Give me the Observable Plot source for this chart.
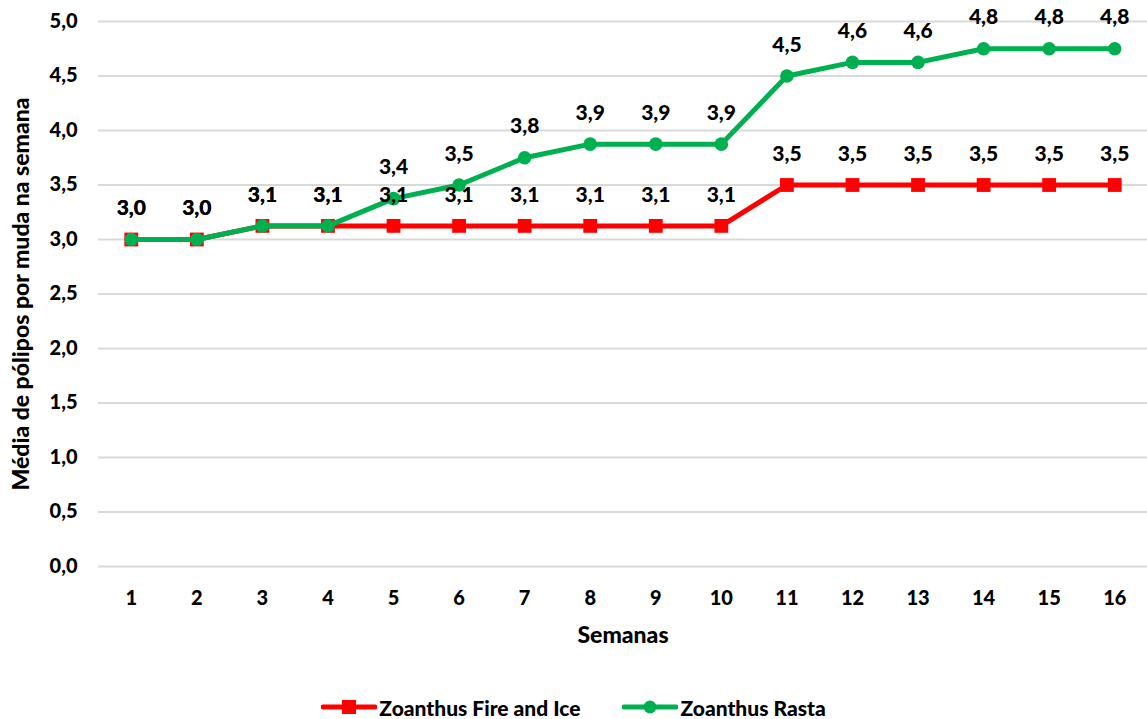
<!DOCTYPE html>
<html>
<head>
<meta charset="utf-8">
<script src="https://cdn.jsdelivr.net/npm/d3@7"></script>
<script src="https://cdn.jsdelivr.net/npm/@observablehq/plot@0.6"></script>
<style>
  body { margin: 0; background: #fff; font-family: Lato, "Open Sans", sans-serif; }
  #chart svg { display: block; }
  .legend { display: flex; justify-content: center; gap: 42px; height: 29px; padding-top: 5px; box-sizing: border-box;
            font-family: Lato, sans-serif; font-weight: 900; font-size: 21px; color: #000; align-items: center; }
  .legend .item { display: flex; align-items: center; gap: 2px; }
</style>
</head>
<body>
<div id="chart"></div>
<div class="legend" id="legend"></div>
<script>
// Weekly average polyps per cutting
const weeks = [1, 2, 3, 4, 5, 6, 7, 8, 9, 10, 11, 12, 13, 14, 15, 16];
const fireAndIce = [3.0, 3.0, 3.125, 3.125, 3.125, 3.125, 3.125, 3.125, 3.125, 3.125, 3.5, 3.5, 3.5, 3.5, 3.5, 3.5];
const rasta = [3.0, 3.0, 3.125, 3.125, 3.375, 3.5, 3.75, 3.875, 3.875, 3.875, 4.5, 4.625, 4.625, 4.75, 4.75, 4.75];
const seriesNames = ["Zoanthus Fire and Ice", "Zoanthus Rasta"];
const seriesColors = ["#ff0000", "#00b050"];
const yTicks = [0, 0.5, 1, 1.5, 2, 2.5, 3, 3.5, 4, 4.5, 5];

const ptBR = d3.formatLocale({decimal: ",", thousands: ".", grouping: [3], currency: ["R$", ""]});
const fmt = ptBR.format(".1f");

const rowsFire = weeks.map((w, i) => ({week: w, value: fireAndIce[i]}));
const rowsRasta = weeks.map((w, i) => ({week: w, value: rasta[i]}));

const chart = Plot.plot({
  width: 1147,
  height: 690,
  marginTop: 21,
  marginLeft: 98,
  marginRight: 0,
  marginBottom: 124,
  style: {fontFamily: "Lato, sans-serif", fontWeight: "900", fontSize: "20px", color: "#000"},
  x: {type: "point", domain: weeks, padding: 0.5, round: false},
  y: {domain: [0, 5]},
  marks: [
    Plot.gridY(yTicks, {stroke: "#d9d9d9", strokeOpacity: 1, strokeWidth: 2}),
    // tick labels
    Plot.axisY(yTicks, {tickSize: 0, tickPadding: 21, tickFormat: fmt, fontSize: 20, label: null}),
    Plot.axisX(weeks, {tickSize: 0, tickPadding: 24, fontSize: 20, label: null}),
    // axis titles
    Plot.axisY([], {tickSize: 0, label: "Média de pólipos por muda na semana", labelAnchor: "center",
      labelArrow: "none", labelOffset: 86, fontSize: 23}),
    Plot.axisX([], {tickSize: 0, label: "Semanas", labelAnchor: "center", labelArrow: "none",
      labelOffset: 76, fontSize: 23}),
    Plot.line(rowsFire, {x: "week", y: "value", stroke: seriesColors[0], strokeWidth: 5}),
    Plot.dot(rowsFire, {x: "week", y: "value", symbol: "square", r: 7.8, fill: seriesColors[0], stroke: "none"}),
    Plot.line(rowsRasta, {x: "week", y: "value", stroke: seriesColors[1], strokeWidth: 5}),
    Plot.dot(rowsRasta, {x: "week", y: "value", r: 6.8, fill: seriesColors[1], stroke: "none"}),
    Plot.text(rowsFire, {x: "week", y: "value", text: d => fmt(d.value), dy: -31, fontSize: 21, fontWeight: 900, fill: "#000"}),
    Plot.text(rowsRasta, {x: "week", y: "value", text: d => fmt(d.value), dy: -31, fontSize: 21, fontWeight: 900, fill: "#000"})
  ]
});
document.getElementById("chart").append(chart);

// Legend: line swatch with the series marker in the middle
const legend = d3.select("#legend");
seriesNames.forEach((name, i) => {
  const item = legend.append("div").attr("class", "item");
  const sw = item.append("svg").attr("width", 56).attr("height", 18);
  sw.append("line").attr("x1", 2).attr("x2", 54).attr("y1", 9).attr("y2", 9)
    .attr("stroke", seriesColors[i]).attr("stroke-width", 5).attr("stroke-linecap", "round");
  if (i === 0) sw.append("rect").attr("x", 21).attr("y", 2).attr("width", 14).attr("height", 14).attr("fill", seriesColors[i]);
  else sw.append("circle").attr("cx", 28).attr("cy", 9).attr("r", 6.5).attr("fill", seriesColors[i]);
  item.append("span").text(name);
});
</script>
</body>
</html>
